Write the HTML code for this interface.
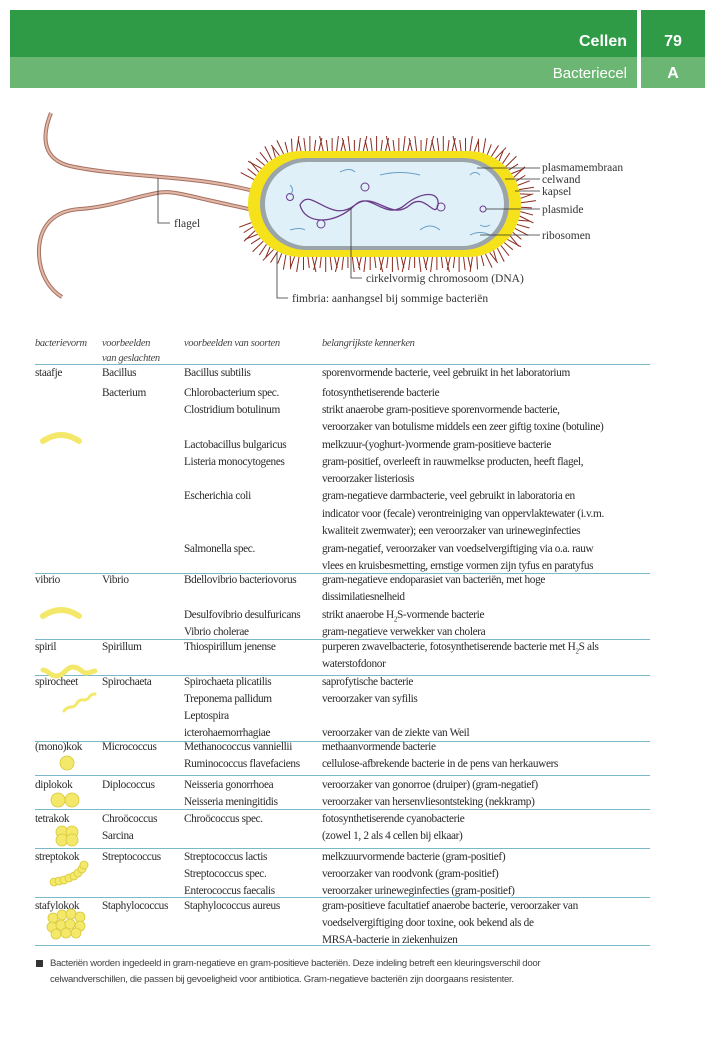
<!DOCTYPE html>
<html><head><meta charset="utf-8">
<style>
html,body{margin:0;padding:0;background:#fff;}
body{width:714px;height:1063px;position:relative;overflow:hidden;font-family:"Liberation Serif",serif;color:#2a2a2a;}
.t{position:absolute;font-size:11.3px;line-height:14px;white-space:nowrap;letter-spacing:-0.35px;}
.h{font-style:italic;color:#444;font-size:10.5px;}
.rule{position:absolute;left:35px;width:615px;height:1px;background:#7cb8cc;}
.lbl{font-family:"Liberation Serif",serif;font-size:11.5px;fill:#333;}
</style></head><body>
<div style="position:absolute;left:10px;top:10px;width:627px;height:47px;background:#2f9b46;"></div>
<div style="position:absolute;left:10px;top:57px;width:627px;height:31px;background:#6cb673;"></div>
<div style="position:absolute;left:641px;top:10px;width:64px;height:47px;background:#2f9b46;"></div>
<div style="position:absolute;left:641px;top:57px;width:64px;height:31px;background:#6cb673;"></div>
<div style="position:absolute;right:87px;top:33px;color:#fff;font:bold 16px 'Liberation Sans',sans-serif;">Cellen</div>
<div style="position:absolute;left:641px;width:64px;text-align:center;top:33px;color:#fff;font:bold 16px 'Liberation Sans',sans-serif;">79</div>
<div style="position:absolute;right:87px;top:65px;color:#fff;font:15px 'Liberation Sans',sans-serif;">Bacteriecel</div>
<div style="position:absolute;left:641px;width:64px;text-align:center;top:65px;color:#fff;font:bold 16px 'Liberation Sans',sans-serif;">A</div>

<svg width="714" height="320" style="position:absolute;left:0;top:0;">
<g id="fimbriae" stroke="#8a2a1e" stroke-width="1"></g>
<path d="M51,113 C40,140 45,160 70,166 C110,175 170,176 208,182 C235,186 250,190 266,194" fill="none" stroke="#a87060" stroke-width="4"/>
<path d="M51,113 C40,140 45,160 70,166 C110,175 170,176 208,182 C235,186 250,190 266,194" fill="none" stroke="#e0b8a8" stroke-width="2"/>
<path d="M266,213 C245,208 225,204 208,200 C185,195 170,190 157,193 C130,198 110,207 80,209 C50,211 38,230 39,255 C40,275 50,290 62,297" fill="none" stroke="#a87060" stroke-width="4"/>
<path d="M266,213 C245,208 225,204 208,200 C185,195 170,190 157,193 C130,198 110,207 80,209 C50,211 38,230 39,255 C40,275 50,290 62,297" fill="none" stroke="#e0b8a8" stroke-width="2"/>
<rect x="248" y="151" width="273" height="106" rx="53" fill="#f5e21a"/>
<rect x="260" y="158" width="249" height="92" rx="46" fill="#9aa4aa"/>
<rect x="265" y="162" width="239" height="84" rx="42" fill="#dff0f8"/>
<path d="M300,205 C310,185 330,225 355,205 C375,190 390,222 410,205 C425,192 435,220 438,205 C440,190 420,192 405,205 C385,222 370,190 355,205 C335,225 305,225 300,205 Z" fill="none" stroke="#6a3c8a" stroke-width="1.3"/>
<circle cx="365" cy="187" r="4" fill="none" stroke="#6a3c8a"/><circle cx="290" cy="197" r="3.5" fill="none" stroke="#6a3c8a"/>
<circle cx="321" cy="224" r="4" fill="none" stroke="#6a3c8a"/><circle cx="441" cy="207" r="4" fill="none" stroke="#6a3c8a"/>
<circle cx="483" cy="209" r="3" fill="none" stroke="#6a3c8a"/>
<g stroke="#6b9fc8" fill="none" stroke-width="1"><path d="M290,185 q5,5 0,10"/><path d="M340,172 q10,-5 15,0"/><path d="M380,175 q20,-5 40,0"/><path d="M470,175 q5,-5 10,0"/><path d="M290,230 q10,-3 15,0"/><path d="M420,230 q10,-8 20,0"/><path d="M470,235 q10,-5 20,0"/><path d="M480,225 q5,3 10,0"/></g>
<g stroke="#333" stroke-width="0.8" fill="none">
<path d="M477,168 H540"/><path d="M505,179 H540"/><path d="M515,191 H540"/><path d="M486,209 H540"/><path d="M480,235 H540"/>
<path d="M158,178 V223 H170"/><path d="M351,208 V278 H362"/><path d="M277,252 V298 H288"/>
</g>
<text class="lbl" x="542" y="171">plasmamembraan</text>
<text class="lbl" x="542" y="183">celwand</text>
<text class="lbl" x="542" y="195">kapsel</text>
<text class="lbl" x="542" y="213">plasmide</text>
<text class="lbl" x="542" y="239">ribosomen</text>
<text class="lbl" x="174" y="227">flagel</text>
<text class="lbl" x="366" y="282">cirkelvormig chromosoom (DNA)</text>
<text class="lbl" x="292" y="302">fimbria: aanhangsel bij sommige bacteriën</text>
</svg>

<div id="table"></div>

<svg width="100" height="1000" style="position:absolute;left:0;top:0;">
<g fill="#f3e86a" stroke="#d8c83a" stroke-width="0.8">
<path d="M43,441 Q61,429 79,441" fill="none" stroke-width="6" stroke="#f3e86a" stroke-linecap="round"/>
<path d="M43,616 Q61,604 79,616" fill="none" stroke-width="6" stroke="#f3e86a" stroke-linecap="round"/>
<path d="M43,670 C48,670 50,676 56,676 C64,676 66,667 73,667 C80,667 82,673 86,673 C90,673 93,671 95,671" fill="none" stroke-width="5" stroke="#f3e86a" stroke-linecap="round"/>
<path d="M64,711 q3,-4 7,-4 q4,0 6,-4 q3,-4 7,-3 q4,0 6,-4 q2,-2 5,-2" fill="none" stroke-width="3" stroke="#f3e86a" stroke-linecap="round"/>
<circle cx="67" cy="763" r="7"/>
<circle cx="58" cy="800" r="7"/><circle cx="72" cy="800" r="7"/>
<g><circle cx="62" cy="832" r="6"/><circle cx="72" cy="832" r="6"/><circle cx="62" cy="840" r="6"/><circle cx="72" cy="840" r="6"/></g>
<g><circle cx="54" cy="882" r="4"/><circle cx="59" cy="881" r="4"/><circle cx="64" cy="880" r="4"/><circle cx="69" cy="878" r="4"/><circle cx="74" cy="876" r="4"/><circle cx="78" cy="873" r="4"/><circle cx="82" cy="869" r="4"/><circle cx="84" cy="865" r="4"/></g>
<g><circle cx="53" cy="918" r="5"/><circle cx="62" cy="915" r="5"/><circle cx="71" cy="914" r="5"/><circle cx="80" cy="917" r="5"/><circle cx="52" cy="927" r="5"/><circle cx="61" cy="925" r="5"/><circle cx="70" cy="924" r="5"/><circle cx="80" cy="926" r="5"/><circle cx="56" cy="934" r="5"/><circle cx="66" cy="933" r="5"/><circle cx="76" cy="933" r="5"/></g>
</g>
</svg>

<div style="position:absolute;left:36px;top:960px;width:7px;height:7px;background:#333;"></div>
<div class="t" style="left:50px;top:956px;font-family:'Liberation Sans',sans-serif;font-size:9.6px;line-height:16px;letter-spacing:-0.3px;color:#444;">Bacteriën worden ingedeeld in gram-negatieve en gram-positieve bacteriën. Deze indeling betreft een kleuringsverschil door<br>celwandverschillen, die passen bij gevoeligheid voor antibiotica. Gram-negatieve bacteriën zijn doorgaans resistenter.</div>

<script>
const colX = [35, 102, 184, 322];
const rules = [364, 573, 639, 675, 741, 775, 809, 848, 897, 945];
const cells = [
[344,0,'bacterievorm',1],[344,1,'voorbeelden',1],[344,2,'voorbeelden van soorten',1],[344,3,'belangrijkste kennerken',1],[359,1,'van geslachten',1],
[373,0,'staafje'],[373,1,'Bacillus'],[373,2,'Bacillus subtilis'],[373,3,'sporenvormende bacterie, veel gebruikt in het laboratorium'],
[393,1,'Bacterium'],[393,2,'Chlorobacterium spec.'],[393,3,'fotosynthetiserende bacterie'],
[410,2,'Clostridium botulinum'],[410,3,'strikt anaerobe gram-positieve sporenvormende bacterie,'],
[427,3,'veroorzaker van botulisme middels een zeer giftig toxine (botuline)'],
[445,2,'Lactobacillus bulgaricus'],[445,3,'melkzuur-(yoghurt-)vormende gram-positieve bacterie'],
[462,2,'Listeria monocytogenes'],[462,3,'gram-positief, overleeft in rauwmelkse producten, heeft flagel,'],
[479,3,'veroorzaker listeriosis'],
[496,2,'Escherichia coli'],[496,3,'gram-negatieve darmbacterie, veel gebruikt in laboratoria en'],
[514,3,'indicator voor (fecale) verontreiniging van oppervlaktewater (i.v.m.'],
[531,3,'kwaliteit zwemwater); een veroorzaker van urineweginfecties'],
[549,2,'Salmonella spec.'],[549,3,'gram-negatief, veroorzaker van voedselvergiftiging via o.a. rauw'],
[566,3,'vlees en kruisbesmetting, ernstige vormen zijn tyfus en paratyfus'],
[580,0,'vibrio'],[580,1,'Vibrio'],[580,2,'Bdellovibrio bacteriovorus'],[580,3,'gram-negatieve endoparasiet van bacteriën, met hoge'],
[597,3,'dissimilatiesnelheid'],
[615,2,'Desulfovibrio desulfuricans'],[615,3,'strikt anaerobe H<sub style="font-size:7px">2</sub>S-vormende bacterie'],
[632,2,'Vibrio cholerae'],[632,3,'gram-negatieve verwekker van cholera'],
[647,0,'spiril'],[647,1,'Spirillum'],[647,2,'Thiospirillum jenense'],[647,3,'purperen zwavelbacterie, fotosynthetiserende bacterie met H<sub style="font-size:7px">2</sub>S als'],
[664,3,'waterstofdonor'],
[682,0,'spirocheet'],[682,1,'Spirochaeta'],[682,2,'Spirochaeta plicatilis'],[682,3,'saprofytische bacterie'],
[699,2,'Treponema pallidum'],[699,3,'veroorzaker van syfilis'],
[716,2,'Leptospira'],
[733,2,'icterohaemorrhagiae'],[733,3,'veroorzaker van de ziekte van Weil'],
[747,0,'(mono)kok'],[747,1,'Micrococcus'],[747,2,'Methanococcus vanniellii'],[747,3,'methaanvormende bacterie'],
[764,2,'Ruminococcus flavefaciens'],[764,3,'cellulose-afbrekende bacterie in de pens van herkauwers'],
[785,0,'diplokok'],[785,1,'Diplococcus'],[785,2,'Neisseria gonorrhoea'],[785,3,'veroorzaker van gonorroe (druiper) (gram-negatief)'],
[802,2,'Neisseria meningitidis'],[802,3,'veroorzaker van hersenvliesontsteking (nekkramp)'],
[819,0,'tetrakok'],[819,1,'Chroöcoccus'],[819,2,'Chroöcoccus spec.'],[819,3,'fotosynthetiserende cyanobacterie'],
[836,1,'Sarcina'],[836,3,'(zowel 1, 2 als 4 cellen bij elkaar)'],
[857,0,'streptokok'],[857,1,'Streptococcus'],[857,2,'Streptococcus lactis'],[857,3,'melkzuurvormende bacterie (gram-positief)'],
[874,2,'Streptococcus spec.'],[874,3,'veroorzaker van roodvonk (gram-positief)'],
[891,2,'Enterococcus faecalis'],[891,3,'veroorzaker urineweginfecties (gram-positief)'],
[906,0,'stafylokok'],[906,1,'Staphylococcus'],[906,2,'Staphylococcus aureus'],[906,3,'gram-positieve facultatief anaerobe bacterie, veroorzaker van'],
[923,3,'voedselvergiftiging door toxine, ook bekend als de'],
[940,3,'MRSA-bacterie in ziekenhuizen']
];
const tbl = document.getElementById('table');
rules.forEach(function(y){
  const r = document.createElement('div');
  r.className = 'rule'; r.style.top = y + 'px';
  
  
  tbl.appendChild(r);
});
const names = ['shape-cell','genus-cell','species-cell','characteristics-cell'];
cells.forEach(function(c){
  const d = document.createElement('div');
  d.className = 't' + (c[3] ? ' h' : '');
  d.style.left = colX[c[1]] + 'px';
  d.style.top = (c[0] - 7) + 'px';
  d.innerHTML = c[2];
  
  
  tbl.appendChild(d);
});
// fimbriae along stadium outline (decorative)
const fg = document.getElementById('fimbriae');
const R = 53, cyc = 204, xl = 301, xr = 468;
const straight = xr - xl, arc = Math.PI * R, per = 2 * straight + 2 * arc;
const N = 150;
for (let i = 0; i < N; i++) {
  let s = i / N * per, px, py, nx, ny;
  if (s < straight) { px = xl + s; py = cyc - R; nx = 0; ny = -1; }
  else if ((s -= straight) < arc) { const a = -Math.PI / 2 + s / R; nx = Math.cos(a); ny = Math.sin(a); px = xr + nx * R; py = cyc + ny * R; }
  else if ((s -= arc) < straight) { px = xr - s; py = cyc + R; nx = 0; ny = 1; }
  else { s -= straight; const a = Math.PI / 2 + s / R; nx = Math.cos(a); ny = Math.sin(a); px = xl + nx * R; py = cyc + ny * R; }
  if (nx < -0.6 && ny > -0.45 && ny < 0.35) continue;
  const len = 11 + (i % 3) * 2, tilt = ((i % 5) - 2) * 0.12;
  const l = document.createElementNS('http://www.w3.org/2000/svg', 'line');
  l.setAttribute('x1', px); l.setAttribute('y1', py);
  l.setAttribute('x2', px + (nx - ny * tilt) * len); l.setAttribute('y2', py + (ny + nx * tilt) * len);
  
  
  fg.appendChild(l);
}
</script>
</body></html>
